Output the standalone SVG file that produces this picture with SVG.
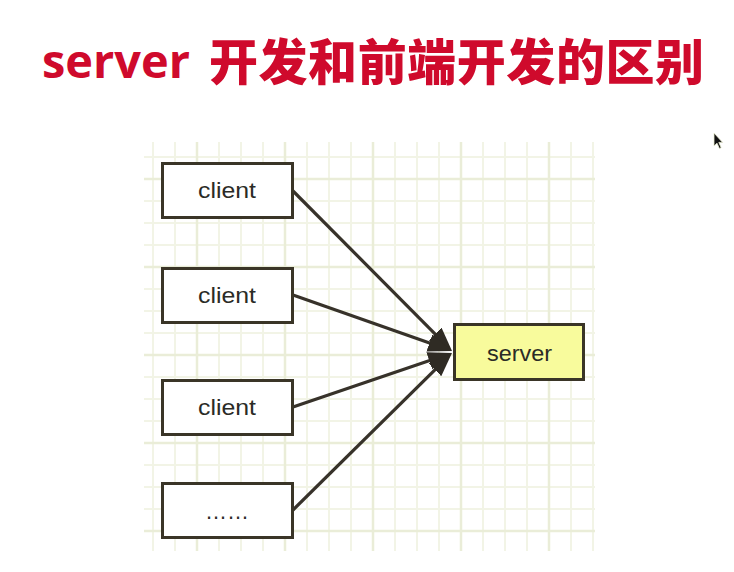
<svg xmlns="http://www.w3.org/2000/svg" width="734" height="572" viewBox="0 0 734 572">
<defs>
<style>
.title{font-family:"Noto Sans CJK SC","Noto Sans",sans-serif;font-weight:900;fill:#cf0a2c;}
.title-lat{font-family:"Open Sans","Noto Sans",sans-serif;font-weight:700;fill:#cf0a2c;}
.g{stroke:#f2f4e6;stroke-width:2;}
.gb{stroke:#eaedd8;stroke-width:2.5;}
.box{fill:#ffffff;stroke:#3a3527;stroke-width:3;}
.srv{fill:#f8fb9c;stroke:#3a3527;stroke-width:3;}
.lbl{font-family:"Liberation Sans",Arial,sans-serif;font-size:22px;fill:#2b2b26;text-anchor:middle;}
.conn{stroke:#37322a;stroke-width:3.2;fill:none;marker-end:url(#ah);}
</style>
<marker id="ah" viewBox="0 -9 24 18" refX="16" refY="0" markerWidth="24" markerHeight="18" markerUnits="userSpaceOnUse" orient="auto">
<path d="M0,-9 L24,0 L0,9 Z" fill="#2f2b24"/>
</marker>
</defs>
<rect width="734" height="572" fill="#ffffff"/>
<g id="title">
<text class="title-lat" x="42" y="78" font-size="47" textLength="148" lengthAdjust="spacingAndGlyphs">server</text>
<text class="title" x="209" y="80" font-size="49" textLength="495" lengthAdjust="spacing">开发和前端开发的区别</text>
</g>
<g id="grid">
<g class="g">
<line x1="153" y1="142" x2="153" y2="551"/>
<line x1="175" y1="142" x2="175" y2="551"/>
<line x1="219" y1="142" x2="219" y2="551"/>
<line x1="241" y1="142" x2="241" y2="551"/>
<line x1="263" y1="142" x2="263" y2="551"/>
<line x1="307" y1="142" x2="307" y2="551"/>
<line x1="329" y1="142" x2="329" y2="551"/>
<line x1="351" y1="142" x2="351" y2="551"/>
<line x1="395" y1="142" x2="395" y2="551"/>
<line x1="417" y1="142" x2="417" y2="551"/>
<line x1="439" y1="142" x2="439" y2="551"/>
<line x1="483" y1="142" x2="483" y2="551"/>
<line x1="505" y1="142" x2="505" y2="551"/>
<line x1="527" y1="142" x2="527" y2="551"/>
<line x1="571" y1="142" x2="571" y2="551"/>
<line x1="593" y1="142" x2="593" y2="551"/>
<line x1="144" y1="157" x2="595" y2="157"/>
<line x1="144" y1="201" x2="595" y2="201"/>
<line x1="144" y1="223" x2="595" y2="223"/>
<line x1="144" y1="245" x2="595" y2="245"/>
<line x1="144" y1="289" x2="595" y2="289"/>
<line x1="144" y1="311" x2="595" y2="311"/>
<line x1="144" y1="333" x2="595" y2="333"/>
<line x1="144" y1="377" x2="595" y2="377"/>
<line x1="144" y1="399" x2="595" y2="399"/>
<line x1="144" y1="421" x2="595" y2="421"/>
<line x1="144" y1="465" x2="595" y2="465"/>
<line x1="144" y1="487" x2="595" y2="487"/>
<line x1="144" y1="509" x2="595" y2="509"/>
</g>
<g class="gb">
<line x1="197" y1="142" x2="197" y2="551"/>
<line x1="285" y1="142" x2="285" y2="551"/>
<line x1="373" y1="142" x2="373" y2="551"/>
<line x1="461" y1="142" x2="461" y2="551"/>
<line x1="549" y1="142" x2="549" y2="551"/>
<line x1="144" y1="179" x2="595" y2="179"/>
<line x1="144" y1="267" x2="595" y2="267"/>
<line x1="144" y1="355" x2="595" y2="355"/>
<line x1="144" y1="443" x2="595" y2="443"/>
<line x1="144" y1="531" x2="595" y2="531"/>
</g>
</g>
<g id="connectors">
<line class="conn" x1="293" y1="191" x2="446.4" y2="345.3"/>
<line class="conn" x1="293" y1="295" x2="444.5" y2="348.3"/>
<line class="conn" x1="293" y1="407" x2="444.4" y2="355.6"/>
<line class="conn" x1="293" y1="510" x2="446.3" y2="358.6"/>
</g>
<g id="client1">
<rect class="box" x="162.5" y="163.5" width="130" height="54"/>
<text class="lbl" x="227" y="198" textLength="58" lengthAdjust="spacingAndGlyphs">client</text>
</g>
<g id="client2">
<rect class="box" x="162.5" y="268.5" width="130" height="54"/>
<text class="lbl" x="227" y="303" textLength="58" lengthAdjust="spacingAndGlyphs">client</text>
</g>
<g id="client3">
<rect class="box" x="162.5" y="380.5" width="130" height="54"/>
<text class="lbl" x="227" y="415" textLength="58" lengthAdjust="spacingAndGlyphs">client</text>
</g>
<g id="more">
<rect class="box" x="162.5" y="483.5" width="130" height="54"/>
<text class="lbl" x="227" y="519" font-size="24">……</text>
</g>
<g id="server">
<rect class="srv" x="454.5" y="324.5" width="129" height="55"/>
<text class="lbl" x="519.5" y="361" textLength="65" lengthAdjust="spacingAndGlyphs">server</text>
</g>
<g id="cursor">
<path d="M714,133 L714,146 L717,143.2 L719.4,148.5 L721.2,147.7 L718.8,142.4 L722.6,142.4 Z" fill="#111111" stroke="#e8ecd0" stroke-width="0.8"/>
</g>
</svg>
